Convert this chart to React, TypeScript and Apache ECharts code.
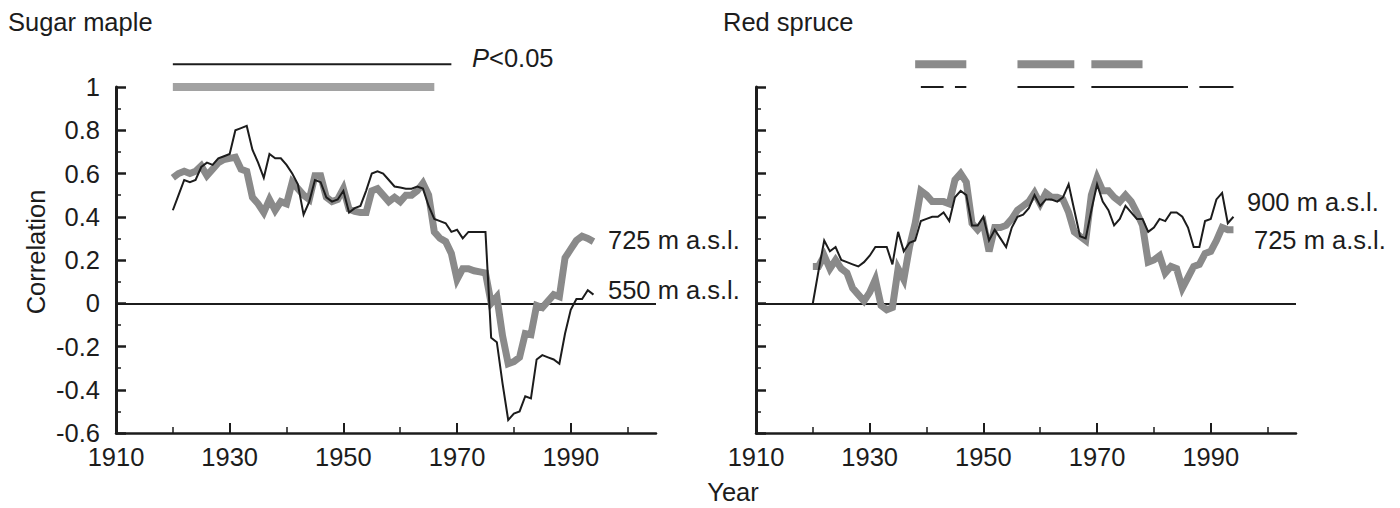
import React, { useEffect, useRef } from "react";
import * as echarts from "echarts";

// ---- data ----
const startYear = 1920;
const xMin = 1910;
const xMax = 2005;
const yMin = -0.6;
const yMax = 1;
const xLabelYears = [1910, 1930, 1950, 1970, 1990];
const xMajorTicks = [1930, 1950, 1970, 1990];
const xMinorTicks = [1920, 1940, 1960, 1980, 2000];

// Sugar maple, 550 m a.s.l. (black)
const sugar550 = [
  0.43, 0.5, 0.57, 0.56, 0.57, 0.63, 0.65, 0.64, 0.67, 0.68,
  0.69, 0.8, 0.81, 0.82, 0.71, 0.65, 0.58, 0.69, 0.67, 0.67,
  0.64, 0.6, 0.55, 0.41, 0.47, 0.57, 0.56, 0.49, 0.47, 0.48,
  0.52, 0.42, 0.44, 0.45, 0.52, 0.6, 0.61, 0.6, 0.57, 0.54,
  0.535, 0.53, 0.53, 0.54, 0.53, 0.45, 0.39, 0.38, 0.37, 0.33,
  0.34, 0.3, 0.33, 0.33, 0.33, 0.33, -0.16, -0.18, -0.37, -0.54,
  -0.51, -0.5, -0.43, -0.44, -0.26, -0.24, -0.25, -0.26, -0.28, -0.14,
  -0.03, 0.02, 0.02, 0.06, 0.04,
];
// Sugar maple, 725 m a.s.l. (grey)
const sugar725 = [
  0.58, 0.6, 0.61, 0.6, 0.61, 0.635, 0.59, 0.62, 0.65, 0.665,
  0.67, 0.675, 0.62, 0.61, 0.49, 0.46, 0.42, 0.48, 0.43, 0.47,
  0.46, 0.56, 0.53, 0.5, 0.48, 0.59, 0.59, 0.49, 0.47, 0.48,
  0.53, 0.435, 0.425, 0.42, 0.42, 0.52, 0.53, 0.5, 0.47, 0.49,
  0.47, 0.5, 0.5, 0.52, 0.555, 0.5, 0.33, 0.3, 0.285, 0.23,
  0.11, 0.16, 0.16, 0.15, 0.145, 0.14, 0.0, 0.03, -0.15, -0.28,
  -0.27, -0.25, -0.14, -0.145, -0.01, -0.02, 0.01, 0.04, 0.03, 0.21,
  0.25, 0.29, 0.31, 0.3, 0.285,
];
// Red spruce, 900 m a.s.l. (black)
const spruce900 = [
  0.0, 0.15, 0.29, 0.24, 0.26, 0.2, 0.19, 0.18, 0.17, 0.19,
  0.22, 0.26, 0.26, 0.26, 0.18, 0.33, 0.24, 0.28, 0.29, 0.38,
  0.39, 0.4, 0.4, 0.42, 0.38, 0.49, 0.52, 0.5, 0.36, 0.36,
  0.4, 0.29, 0.34, 0.3, 0.26, 0.35, 0.4, 0.41, 0.44, 0.5,
  0.45, 0.48, 0.48, 0.47, 0.49, 0.55, 0.43, 0.31, 0.3, 0.43,
  0.55, 0.47, 0.43, 0.36, 0.39, 0.45, 0.42, 0.39, 0.39, 0.33,
  0.35, 0.39, 0.38, 0.42, 0.42, 0.4, 0.35, 0.26, 0.26, 0.38,
  0.39, 0.48, 0.51, 0.37, 0.4,
];
// Red spruce, 725 m a.s.l. (grey)
const spruce725 = [
  0.17, 0.17, 0.22, 0.16, 0.2, 0.16, 0.14, 0.07, 0.04, 0.01,
  0.05, 0.11, -0.01, -0.03, -0.02, 0.16, 0.11, 0.26, 0.37, 0.52,
  0.5, 0.47, 0.47, 0.47, 0.46, 0.57, 0.6, 0.56, 0.37, 0.34,
  0.37, 0.24, 0.35, 0.35, 0.36, 0.39, 0.43, 0.45, 0.47, 0.51,
  0.46, 0.51, 0.49, 0.49, 0.48, 0.42, 0.33, 0.31, 0.29, 0.5,
  0.58, 0.52, 0.52, 0.49, 0.47, 0.5, 0.47, 0.42, 0.36, 0.19,
  0.2, 0.22, 0.14, 0.17, 0.16, 0.07, 0.12, 0.17, 0.18, 0.23,
  0.24, 0.29, 0.35, 0.34, 0.34,
];

// Significance (P<0.05) periods [start, end]
const sugarSigBlack = [[1920, 1969]];
const sugarSigGrey = [[1920, 1966]];
const spruceSigGrey = [[1938, 1947], [1956, 1966], [1969, 1978]];
const spruceSigBlack = [[1939, 1943], [1945, 1947], [1956, 1966], [1969, 1986], [1988, 1994]];
const sigUpper = 1.105;
const sigLower = 1.0;

const FONT = "'Liberation Sans', Arial, Helvetica, sans-serif";
const INK = "#1c1c1c";
const GREY = "#8a8a8a";
const GREY_LIGHT = "#a2a2a2";
const FS = 25.5;

const toPairs = (vals: number[]) => vals.map((v, i) => [startYear + i, v]);

function sigSeries(segs: number[][], level: number, color: string, width: number, gi: number) {
  return segs.map(([a, b]) => ({
    type: "line",
    xAxisIndex: gi * 2,
    yAxisIndex: gi,
    data: [[a, level], [b, level]],
    symbol: "none",
    clip: false,
    silent: true,
    z: 4,
    lineStyle: { color, width, cap: "butt" },
  }));
}

function xAxes(gi: number) {
  return [
    {
      type: "value",
      gridIndex: gi,
      position: "bottom",
      min: xMin,
      max: xMax,
      axisLine: { show: true, onZero: false, lineStyle: { color: INK, width: 2.5 } },
      axisTick: {
        show: true,
        inside: true,
        length: 10,
        customValues: xMajorTicks,
        lineStyle: { color: INK, width: 2 },
      },
      axisLabel: {
        show: true,
        customValues: xLabelYears,
        fontSize: FS,
        fontFamily: FONT,
        color: INK,
        margin: 11,
        formatter: (v: number) => String(v),
      },
      splitLine: { show: false },
    },
    {
      type: "value",
      gridIndex: gi,
      position: "bottom",
      min: xMin,
      max: xMax,
      axisLine: { show: false, onZero: false },
      axisTick: {
        show: true,
        inside: true,
        length: 6,
        customValues: xMinorTicks,
        lineStyle: { color: INK, width: 1.5 },
      },
      axisLabel: { show: false },
      splitLine: { show: false },
    },
  ];
}

function yAxis(gi: number, labels: boolean) {
  return {
    type: "value",
    gridIndex: gi,
    position: "left",
    min: yMin,
    max: yMax,
    interval: 0.2,
    axisLine: { show: true, onZero: false, lineStyle: { color: INK, width: 3 } },
    axisTick: { show: true, inside: true, length: 10, lineStyle: { color: INK, width: 2.5 } },
    minorTick: { show: true, splitNumber: 2, length: 5, lineStyle: { color: INK, width: 1.5 } },
    axisLabel: {
      show: labels,
      fontSize: FS,
      fontFamily: FONT,
      color: INK,
      margin: 16,
      formatter: (v: number) => String(Math.round(v * 10) / 10),
    },
    splitLine: { show: false },
    minorSplitLine: { show: false },
  };
}

function dataSeries(vals: number[], gi: number, color: string, width: number, z: number, zero: boolean) {
  const s: any = {
    type: "line",
    xAxisIndex: gi * 2,
    yAxisIndex: gi,
    data: toPairs(vals),
    symbol: "none",
    silent: true,
    z,
    lineStyle: { color, width, join: "miter" },
  };
  if (zero) {
    s.markLine = {
      silent: true,
      symbol: ["none", "none"],
      label: { show: false },
      lineStyle: { color: INK, width: 2, type: "solid" },
      data: [{ yAxis: 0 }],
      z: 1,
    };
  }
  return s;
}

function txt(text: string, x: number, y: number, extra: any = {}) {
  return {
    type: "text",
    x,
    y,
    silent: true,
    style: {
      text,
      fontSize: FS,
      fontFamily: FONT,
      fill: INK,
      textAlign: "left",
      textVerticalAlign: "middle",
      ...extra,
    },
  };
}

export default function App() {
  const ref = useRef<HTMLDivElement>(null);
  useEffect(() => {
    if (!ref.current) return;
    const chart = echarts.init(ref.current, undefined, { renderer: "svg" });
    const option: any = {
      animation: false,
      backgroundColor: "#ffffff",
      grid: [
        { left: 116, top: 87, width: 540, height: 346, outerBoundsMode: "none" },
        { left: 756, top: 87, width: 540, height: 346, outerBoundsMode: "none" },
      ],
      xAxis: [...xAxes(0), ...xAxes(1)],
      yAxis: [yAxis(0, true), yAxis(1, false)],
      series: [
        dataSeries(sugar725, 0, GREY, 7, 2, true),
        dataSeries(sugar550, 0, INK, 2, 3, false),
        dataSeries(spruce725, 1, GREY, 7, 2, true),
        dataSeries(spruce900, 1, INK, 2, 3, false),
        ...sigSeries(sugarSigBlack, sigUpper, INK, 2, 0),
        ...sigSeries(sugarSigGrey, sigLower, GREY_LIGHT, 8, 0),
        ...sigSeries(spruceSigGrey, sigUpper, GREY, 8, 1),
        ...sigSeries(spruceSigBlack, sigLower, INK, 2, 1),
      ],
      graphic: [
        txt("Sugar maple", 8, 22),
        txt("Red spruce", 723, 22),
        {
          type: "text",
          x: 472,
          y: 58,
          silent: true,
          style: {
            text: "{i|P}<0.05",
            fontSize: FS,
            fontFamily: FONT,
            fill: INK,
            textAlign: "left",
            textVerticalAlign: "middle",
            rich: { i: { fontStyle: "italic", fontSize: FS, fontFamily: FONT, fill: INK } },
          },
        },
        txt("725 m a.s.l.", 608, 240),
        txt("550 m a.s.l.", 608, 290),
        txt("900 m a.s.l.", 1247, 202),
        txt("725 m a.s.l.", 1254, 240),
        txt("Year", 733, 492, { textAlign: "center" }),
        {
          type: "text",
          x: 36,
          y: 252,
          rotation: Math.PI / 2,
          silent: true,
          style: {
            text: "Correlation",
            fontSize: FS,
            fontFamily: FONT,
            fill: INK,
            textAlign: "center",
            textVerticalAlign: "middle",
          },
        },
      ],
    };
    chart.setOption(option);
    return () => chart.dispose();
  }, []);
  return (
    <div
      ref={ref}
      style={{ position: "fixed", left: 0, top: 0, width: 1400, height: 508, background: "#fff" }}
    />
  );
}
